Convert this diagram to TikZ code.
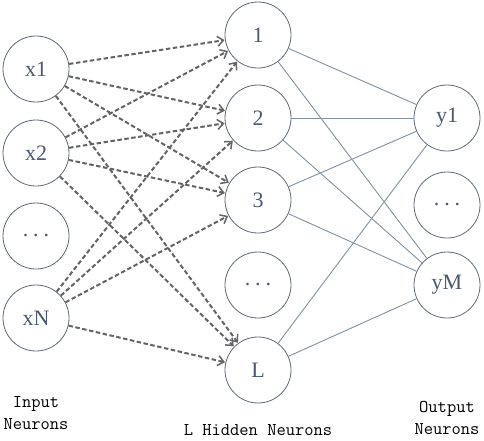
\documentclass[tikz,border=0pt]{standalone}
\usepackage{fontspec}
\setmainfont{Liberation Serif}
\usetikzlibrary{arrows.meta}
\definecolor{circ}{RGB}{95,105,120}
\definecolor{txt}{RGB}{75,88,110}
\definecolor{wire}{RGB}{130,145,160}
\definecolor{dash}{RGB}{100,100,100}
\newcommand{\ndots}{.\hspace{5pt}.\hspace{5pt}.}
\begin{document}
\begin{tikzpicture}[x=1pt,y=-1pt,
  neuron/.style={circle,draw=circ,line width=0.8pt,minimum size=66pt,inner sep=0pt,text=txt,font=\fontsize{22}{22}\selectfont},
  inarrow/.style={draw=dash,line width=2pt,dash pattern=on 4.5pt off 2.5pt,-{Straight Barb[length=6pt,width=10pt,line width=1.5pt]},shorten >=0.5pt},
  outwire/.style={draw=wire,line width=0.9pt},
  caption/.style={text=black,font=\ttfamily\fontsize{18}{22}\selectfont,align=center}]
\useasboundingbox (0,0) rectangle (484,440);
\node[neuron] (x1) at (36,69) {x1};
\node[neuron] (x2) at (36,153) {x2};
\node[neuron] (xd) at (36,236) {\ndots};
\node[neuron] (xN) at (36,318) {xN};
\node[neuron] (h1) at (258,35) {1};
\node[neuron] (h2) at (258,118) {2};
\node[neuron] (h3) at (258,200) {3};
\node[neuron] (hd) at (258,285) {\ndots};
\node[neuron] (hL) at (258,370) {L};
\node[neuron] (y1) at (447,118) {y1};
\node[neuron] (yd) at (447,205) {\ndots};
\node[neuron] (yM) at (447,285) {yM};
\foreach \i in {x1,x2,xN}{
  \foreach \h in {h1,h2,h3,hL}{
    \draw[inarrow] (\i) -- (\h);
  }
}
\foreach \h in {h1,h2,h3,hL}{
  \foreach \o in {y1,yM}{
    \draw[outwire] (\h) -- (\o);
  }
}
\node[caption] (cin) at (36,413) {Input\\Neurons};
\node[caption] (chid) at (258,430) {L Hidden Neurons};
\node[caption] (cout) at (447,418) {Output\\Neurons};
\end{tikzpicture}
\end{document}
